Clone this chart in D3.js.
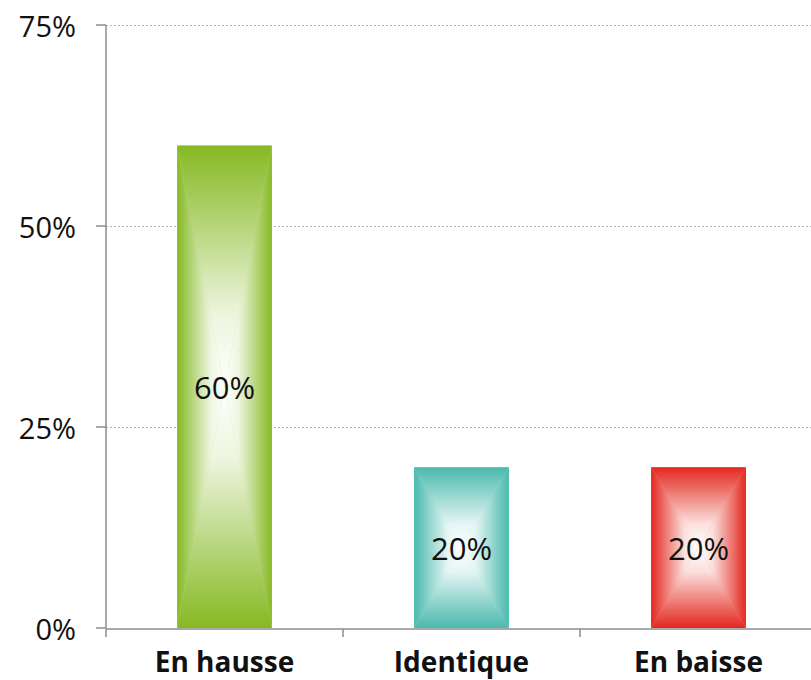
<!DOCTYPE html>
<html>
<head>
<meta charset="utf-8">
<script src="https://cdn.jsdelivr.net/npm/d3@7"></script>
<style>
  body { margin: 0; background: #fff; }
  svg { display: block; font-family: "Open Sans", sans-serif; }
</style>
</head>
<body>
<svg id="chart"></svg>
<script>
const categories = ["En hausse", "Identique", "En baisse"];
const values = [60, 20, 20];
const barColors = ["#86b923", "#4ab9ad", "#e3281f"];
const yTicks = [0, 25, 50, 75];

const width = 811, height = 680;
const x0 = 106, y0 = 628, yTop = 25, step = 237;

const svg = d3.select("#chart").attr("width", width).attr("height", height);
const defs = svg.append("defs");

const x = d3.scaleBand()
    .domain(categories)
    .range([x0, x0 + step * categories.length])
    .paddingInner(0.6)
    .paddingOuter(0.3);

const y = d3.scaleLinear().domain([0, 75]).range([y0, yTop]);

// grid
svg.append("g")
    .selectAll("line")
    .data(yTicks.filter(d => d > 0))
    .join("line")
    .attr("x1", x0).attr("x2", width)
    .attr("y1", d => y(d) + 0.5).attr("y2", d => y(d) + 0.5)
    .attr("stroke", "#b4b4b4")
    .attr("stroke-width", 1)
    .attr("stroke-dasharray", "2,2");

// gradients: one per side per colour
const sides = [
    { key: "t", x1: 0, y1: 0, x2: 0, y2: 1 },
    { key: "b", x1: 0, y1: 1, x2: 0, y2: 0 },
    { key: "l", x1: 0, y1: 0, x2: 1, y2: 0 },
    { key: "r", x1: 1, y1: 0, x2: 0, y2: 0 }
];
barColors.forEach((c, i) => {
    sides.forEach(s => {
        const g = defs.append("linearGradient")
            .attr("id", `g${i}${s.key}`)
            .attr("x1", s.x1).attr("y1", s.y1).attr("x2", s.x2).attr("y2", s.y2);
        const mid = d3.interpolateRgb(c, "#ffffff");
        g.append("stop").attr("offset", 0).attr("stop-color", c);
        g.append("stop").attr("offset", 0.25).attr("stop-color", mid(0.3));
        g.append("stop").attr("offset", 0.7).attr("stop-color", mid(0.85));
        g.append("stop").attr("offset", 1).attr("stop-color", "#ffffff");
    });
});

// bars as four triangles (rectangular "from centre" gradient)
const bars = svg.append("g")
    .selectAll("g")
    .data(categories.map((c, i) => ({ cat: c, v: values[i], i })))
    .join("g");

bars.each(function(d) {
    const g = d3.select(this);
    const l = x(d.cat), r = x(d.cat) + x.bandwidth();
    const t = y(d.v), b = y(0);
    const cx = (l + r) / 2, cy = (t + b) / 2;
    g.append("rect")
        .attr("x", l).attr("y", t).attr("width", r - l).attr("height", b - t)
        .attr("fill", d3.interpolateRgb(barColors[d.i], "#fff")(0.5));
    const polys = {
        t: [[l, t], [r, t], [cx, cy]],
        b: [[l, b], [r, b], [cx, cy]],
        l: [[l, t], [l, b], [cx, cy]],
        r: [[r, t], [r, b], [cx, cy]]
    };
    Object.entries(polys).forEach(([k, p]) => {
        g.append("polygon")
            .attr("points", p.map(q => q.join(",")).join(" "))
            .attr("fill", `url(#g${d.i}${k})`);
    });
    g.append("text")
        .attr("x", cx).attr("y", cy)
        .attr("text-anchor", "middle")
        .attr("dominant-baseline", "central")
        .attr("font-size", 31)
        .attr("fill", "#111")
        .text(d.v + "%");
});

// y axis
const yAxis = svg.append("g");
yAxis.append("line")
    .attr("x1", x0).attr("x2", x0).attr("y1", yTop).attr("y2", y0)
    .attr("stroke", "#8c8c8c").attr("stroke-width", 1.5);
yAxis.selectAll(".tick")
    .data(yTicks)
    .join("line")
    .attr("x1", x0 - 10).attr("x2", x0)
    .attr("y1", d => y(d)).attr("y2", d => y(d))
    .attr("stroke", "#8c8c8c").attr("stroke-width", 1.5);
yAxis.selectAll("text")
    .data(yTicks)
    .join("text")
    .attr("x", x0 - 30)
    .attr("y", d => y(d))
    .attr("text-anchor", "end")
    .attr("dominant-baseline", "central")
    .attr("font-size", 29)
    .attr("fill", "#111")
    .text(d => d + "%");

// x axis
const xAxis = svg.append("g");
xAxis.append("line")
    .attr("x1", x0).attr("x2", width).attr("y1", y0 + 1).attr("y2", y0 + 1)
    .attr("stroke", "#8c8c8c").attr("stroke-width", 1.5);
xAxis.selectAll("line.tick")
    .data(categories)
    .join("line")
    .attr("class", "tick")
    .attr("x1", d => x(d) - x.step() * x.paddingOuter())
    .attr("x2", d => x(d) - x.step() * x.paddingOuter())
    .attr("y1", y0 + 1).attr("y2", y0 + 9)
    .attr("stroke", "#8c8c8c").attr("stroke-width", 1.5);
xAxis.selectAll("text")
    .data(categories)
    .join("text")
    .attr("x", d => x(d) + x.bandwidth() / 2)
    .attr("y", 672)
    .attr("text-anchor", "middle")
    .attr("font-size", 28)
    .attr("font-weight", "bold")
    .attr("fill", "#111")
    .text(d => d);
</script>
</body>
</html>
